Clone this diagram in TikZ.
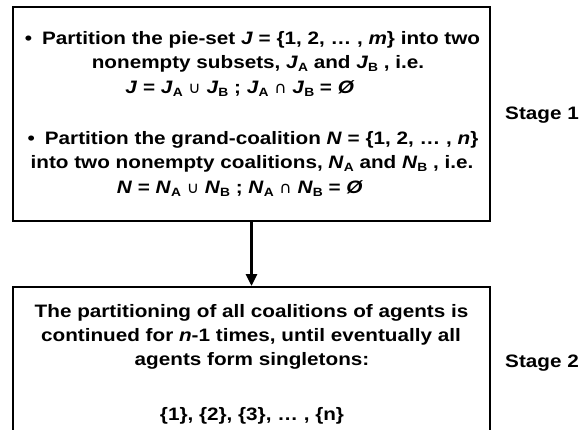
\documentclass[tikz,border=0pt]{standalone}
\usepackage{fontspec}
\setmainfont{Liberation Sans}[FakeStretch=1.15]
\newfontfamily\symfnt{DejaVu Sans}[FakeStretch=1.05]
\usetikzlibrary{arrows.meta}
\newcommand{\sbs}[1]{\raisebox{-0.28ex}{\fontsize{12}{12}\selectfont #1}}
\newcommand{\cupsym}{{\symfnt\mdseries\fontsize{16}{16}\selectfont ∪}}
\newcommand{\capsym}{{\symfnt\mdseries\fontsize{16}{16}\selectfont ∩}}
\begin{document}
\begin{tikzpicture}[x=1pt,y=-1pt,
  txt/.style={anchor=base,inner sep=0pt,font=\bfseries\fontsize{18}{24}\selectfont},
  stagebox/.style={draw,line width=2pt,inner sep=0pt,minimum width=477pt},
  flow/.style={line width=2.8pt,-{Triangle[width=11pt,length=12pt]}}]
\useasboundingbox (0,0) rectangle (583,430);
\node[stagebox,minimum height=214pt] (b1) at (251.5,114) {};
\node[stagebox,minimum height=160pt] (b2) at (251.5,367) {};
\draw[flow] (b1.south) -- (b2.north);
% stage 1 text
\node[txt] (l1) at (252.5,45) {•\hspace{10pt}Partition the pie-set \textit{J} = \{1, 2, … , \textit{m}\} into two};
\node[txt] (l2) at (258,69) {nonempty subsets, \textit{J}\sbs{A} and \textit{J}\sbs{B} , i.e.};
\node[txt] (l3) at (240,94) {\textit{J} = \textit{J}\sbs{A} \cupsym{} \textit{J}\sbs{B} ; \textit{J}\sbs{A} \capsym{} \textit{J}\sbs{B} = \textit{Ø}};
\node[txt] (l4) at (253,145) {•\hspace{10pt}Partition the grand-coalition \textit{N} = \{1, 2, … , \textit{n}\}};
\node[txt] (l5) at (252,169) {into two nonempty coalitions, \textit{N}\sbs{A} and \textit{N}\sbs{B} , i.e.};
\node[txt] (l6) at (240,194) {\textit{N} = \textit{N}\sbs{A} \cupsym{} \textit{N}\sbs{B} ; \textit{N}\sbs{A} \capsym{} \textit{N}\sbs{B} = \textit{Ø}};
% stage 2 text
\node[txt] (m1) at (251.5,317) {The partitioning of all coalitions of agents is};
\node[txt] (m2) at (251,341) {continued for \textit{n}-1 times, until eventually all};
\node[txt] (m3) at (252,365) {agents form singletons:};
\node[txt] (m4) at (252,420) {\{1\}, \{2\}, \{3\}, … , \{n\}};
% stage labels
\node[txt,anchor=base west] (s1) at (505,120) {Stage 1};
\node[txt,anchor=base west] (s2) at (505,367) {Stage 2};
\end{tikzpicture}
\end{document}
